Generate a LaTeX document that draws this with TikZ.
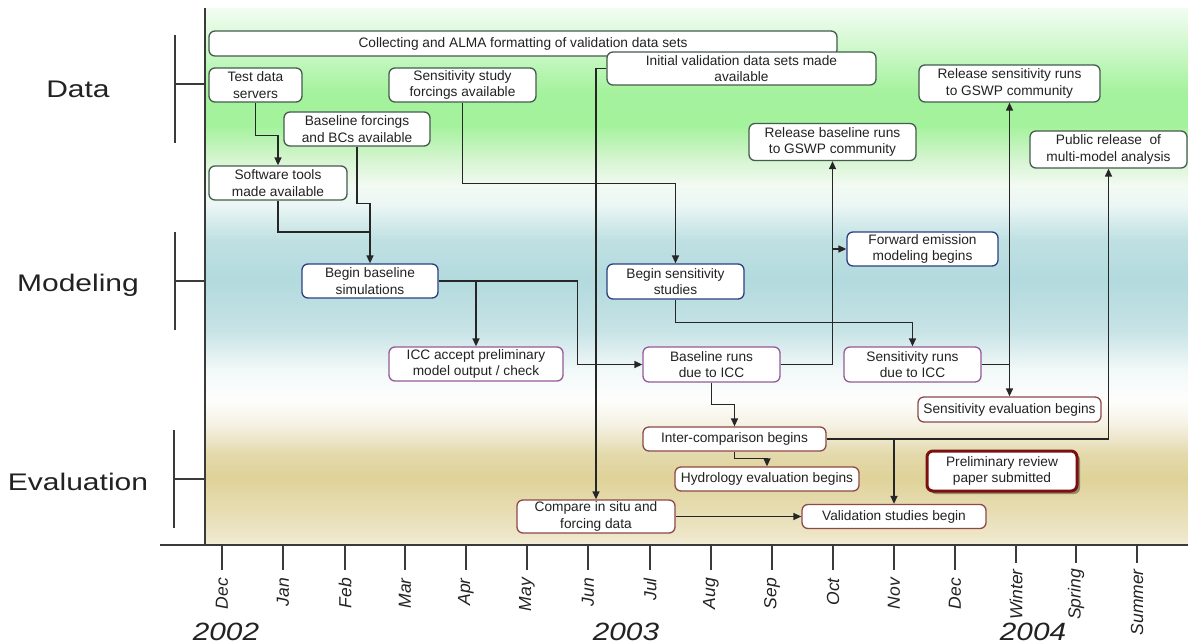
\documentclass[tikz,border=0pt]{standalone}
\usepackage{fontspec}
\usepackage{graphicx}
\setmainfont{Liberation Sans}
\usetikzlibrary{arrows.meta,shadows}

\definecolor{dgreen}{HTML}{445C4C}
\definecolor{dblue}{HTML}{2C3F80}
\definecolor{dpurple}{HTML}{945A98}
\definecolor{dred}{HTML}{8E4848}
\definecolor{dredtwo}{HTML}{7A1010}
\definecolor{axisgray}{HTML}{3A3A3A}
\definecolor{txt}{HTML}{222222}

\pgfdeclareverticalshading{bgshade}{100bp}{%
rgb(0bp)=(0.95,0.93,0.85);
rgb(25bp)=(0.95,0.93,0.85);
rgb(25.95bp)=(0.93,0.90,0.78);
rgb(31.25bp)=(0.875,0.825,0.60);
rgb(33.4bp)=(0.89,0.85,0.67);
rgb(36.15bp)=(0.96,0.945,0.89);
rgb(38.5bp)=(0.995,0.995,0.99);
rgb(41.3bp)=(0.95,0.975,0.975);
rgb(45bp)=(0.78,0.89,0.90);
rgb(49.65bp)=(0.70,0.855,0.87);
rgb(53.4bp)=(0.75,0.88,0.89);
rgb(56.65bp)=(0.92,0.965,0.96);
rgb(58.5bp)=(0.95,0.98,0.95);
rgb(60.85bp)=(0.84,0.96,0.82);
rgb(64.1bp)=(0.64,0.95,0.61);
rgb(67.35bp)=(0.65,0.95,0.62);
rgb(71.55bp)=(0.82,0.975,0.81);
rgb(75bp)=(0.95,0.99,0.95);
rgb(100bp)=(0.95,0.99,0.95)}

\newcommand\boxfont{\fontsize{13.7}{16.5}\selectfont}
\newcommand\monthfont{\fontsize{17.5}{18}\selectfont\itshape}
\newcommand\catlabel[1]{\scalebox{1.25}[1]{\fontsize{24}{26}\selectfont #1}}
\newcommand\yearlabel[1]{\scalebox{1.19}[1]{\fontsize{25}{26}\selectfont\itshape #1}}

\tikzset{
  box/.style={draw, rounded corners=6pt, fill=white, line width=1.3pt, inner sep=0pt,
    align=center, font=\boxfont, text=txt},
  databox/.style={box, draw=dgreen},
  modbox/.style={box, draw=dblue},
  iccbox/.style={box, draw=dpurple},
  evbox/.style={box, draw=dred},
  conn/.style={line width=1.35pt, draw=black!85},
  arr/.style={conn, -{Triangle[length=8pt,width=7pt]}},
  axisline/.style={line width=1.5pt, draw=axisgray},
  monthlbl/.style={font=\monthfont, text=txt, inner sep=0pt, anchor=east, rotate=90},
  catlbl/.style={text=txt, inner sep=0pt, anchor=base},
  yearlbl/.style={text=txt, inner sep=0pt, anchor=base}
}

\begin{document}
\begin{tikzpicture}[x=1pt,y=-1pt]
\useasboundingbox (0,0) rectangle (1188,643);
\fill[white] (0,0) rectangle (1188,643);
\shade[shading=bgshade] (205,8) rectangle (1188,545);

% axes
\draw[axisline] (205,8) -- (205,545);
\draw[axisline] (160,545) -- (1188,545);

% category brackets
\draw[axisline] (175,35) -- (175,143);
\draw[axisline] (175,84) -- (205,84);
\draw[axisline] (175,232) -- (175,330);
\draw[axisline] (175,281) -- (205,281);
\draw[axisline] (174,430) -- (174,528);
\draw[axisline] (174,479) -- (205,479);

\node[catlbl] (ldata) at (78,97) {\catlabel{Data}};
\node[catlbl] (lmod) at (78,291.5) {\catlabel{Modeling}};
\node[catlbl] (leval) at (78,490) {\catlabel{Evaluation}};

% month ticks
\foreach \x/\m in {222/Dec,283/Jan,345/Feb,405/Mar,466/Apr,527/May,588/Jun,650/Jul,711/Aug,772/Sep,833/Oct,894/Nov,955/Dec}{
  \draw[axisline] (\x,545) -- (\x,570);
  \node[monthlbl] at (\x,578) {\m};
}
\foreach \x/\m in {1016/Winter,1076/Spring,1137/Summer}{
  \draw[axisline] (\x,545) -- (\x,563);
  \node[monthlbl] at (\x,569) {\m};
}

\node[yearlbl] (y2002) at (226,640) {\yearlabel{2002}};
\node[yearlbl] (y2003) at (626,640) {\yearlabel{2003}};
\node[yearlbl] (y2004) at (1033,640) {\yearlabel{2004}};

% Data boxes
\node[databox, minimum width=628pt, minimum height=25pt] (coll) at (523,43.5) {Collecting and ALMA formatting of validation data sets};
\node[databox, minimum width=269pt, minimum height=33pt] (initv) at (741.5,68.5) {Initial validation data sets made\\available};
\node[databox, minimum width=93pt, minimum height=34pt] (test) at (255.5,85) {Test data\\servers};
\node[databox, minimum width=147pt, minimum height=34pt] (sensf) at (462.5,85) {Sensitivity study\\forcings available};
\node[databox, minimum width=146pt, minimum height=34pt] (basef) at (357,129) {Baseline forcings\\and BCs available};
\node[databox, minimum width=138pt, minimum height=34pt] (soft) at (278,183) {Software tools\\made available};
\node[databox, minimum width=167pt, minimum height=37pt] (relb) at (832.5,142) {Release baseline runs\\to GSWP community};
\node[databox, minimum width=181pt, minimum height=37pt] (rels) at (1009.5,83.5) {Release sensitivity runs\\to GSWP community};
\node[databox, minimum width=157pt, minimum height=37pt] (pub) at (1108.5,149.5) {Public release~ of\\multi-model analysis};

% Modeling boxes
\node[modbox, minimum width=136pt, minimum height=34pt] (begb) at (370,281) {Begin baseline\\simulations};
\node[modbox, minimum width=137pt, minimum height=35pt] (begs) at (675.5,281.5) {Begin sensitivity\\studies};
\node[modbox, minimum width=151pt, minimum height=34pt] (fwd) at (922.5,249) {Forward emission\\modeling begins};

% ICC boxes
\node[iccbox, minimum width=174pt, minimum height=34pt] (icca) at (476,364) {ICC accept preliminary\\model output / check};
\node[iccbox, minimum width=137pt, minimum height=35pt] (bruns) at (711.5,364.5) {Baseline runs\\due to ICC};
\node[iccbox, minimum width=137pt, minimum height=35pt] (sruns) at (912.5,364.5) {Sensitivity runs\\due to ICC};

% Evaluation boxes
\node[evbox, minimum width=183pt, minimum height=25pt] (seval) at (1009.5,409.5) {Sensitivity evaluation begins};
\node[evbox, minimum width=183pt, minimum height=24pt] (inter) at (734.5,439) {Inter-comparison begins};
\node[evbox, minimum width=184pt, minimum height=24pt] (hydro) at (767,479) {Hydrology evaluation begins};
\node[evbox, minimum width=158pt, minimum height=33pt] (comp) at (596,516.5) {Compare in situ and\\forcing data};
\node[evbox, minimum width=184pt, minimum height=24pt] (valid) at (894,516.5) {Validation studies begin};
\node[box, draw=dredtwo, line width=3pt, minimum width=150pt, minimum height=40pt,
  drop shadow={shadow xshift=3pt, shadow yshift=-3pt, fill=black, opacity=0.35}] (prelim) at (1002,471) {Preliminary review\\paper submitted};

% connectors
\coordinate (j1) at (370,232);
\coordinate (j2) at (476,281);
\draw[arr] (test.south) -- ++(0,33) -| (soft.north);
\draw[arr] (basef.south) -- ++(0,57) -| (begb.north);
\draw[conn] (soft.south) |- (j1);
\draw[arr] (sensf.south) -- ++(0,81) -| (begs.north);
\draw[arr] (initv.west) -| (comp.north);
\draw[arr] (begb.east) -- ++(139,0) |- (bruns.west);
\draw[arr] (j2) -- (icca.north);
\draw[arr] (bruns.east) -| (relb.south);
\draw[arr] (fwd.west -| relb.south) -- (fwd.west);
\draw[arr] (begs.south) -- ++(0,23) -| (sruns.north);
\draw[arr] (sruns.east) -| (rels.south);
\draw[arr] (sruns.east -| rels.south) -- (seval.north);
\draw[arr] (bruns.south) -- ++(0,22) -| (inter.north);
\draw[arr] (inter.south) -- ++(0,7) -| (hydro.north);
\draw[arr] (inter.east) -| (pub.south);
\draw[arr] (inter.east -| valid.north) -- (valid.north);
\draw[arr] (comp.east) -- (valid.west);
\end{tikzpicture}
\end{document}
